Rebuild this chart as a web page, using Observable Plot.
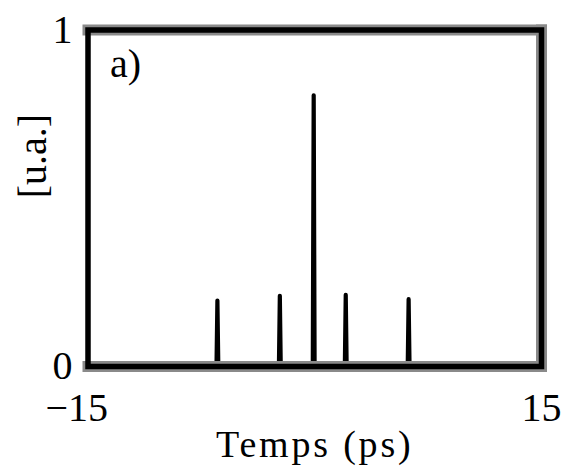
<!DOCTYPE html>
<html>
<head>
<meta charset="utf-8">
<script src="https://cdn.jsdelivr.net/npm/d3@7"></script>
<script src="https://cdn.jsdelivr.net/npm/@observablehq/plot@0.6"></script>
<style>
  html, body { margin: 0; padding: 0; background: #fff; }
</style>
</head>
<body>
<div id="chart"></div>
<script>
// Time axis (ps) and intensity (a.u.)
const time = [-15, -6.50, -6.44, -6.38, -2.37, -2.31, -2.25, -0.13, -0.07, -0.01, 1.99, 2.05, 2.11, 6.15, 6.21, 6.27, 15];
const intensity = [0, 0, 0.196, 0, 0, 0.21, 0, 0, 0.806, 0, 0, 0.213, 0, 0, 0.20, 0, 0];

const xTicks = [-15, 15];
const xTickLabels = ["\u221215", "15"];
const yTicks = [0, 1];
const yTickLabels = ["0", "1"];

const xLabel = "Temps (ps)";
const yLabel = "[u.a.]";
const panelLabel = "a)";

const trace = time.map((t, i) => ({t, v: intensity[i]}));
const FONT = "Liberation Serif, Times New Roman, serif";

const chart = Plot.plot({
  width: 563,
  height: 470,
  marginLeft: 87.5,
  marginRight: 22,
  marginTop: 29.5,
  marginBottom: 104,
  style: {fontFamily: FONT, fontSize: "40px", color: "#000", background: "#fff"},
  x: {domain: [-15, 15]},
  y: {domain: [0, 1]},
  marks: [
    Plot.line(trace, {x: "t", y: "v", stroke: "#000", strokeWidth: 4.2}),
    Plot.frame({anchor: "top", stroke: "#8a8a8a", strokeWidth: 11}),
    Plot.frame({anchor: "right", stroke: "#8a8a8a", strokeWidth: 11}),
    Plot.frame({anchor: "bottom", stroke: "#8a8a8a", strokeWidth: 11}),
    Plot.frame({stroke: "#000", strokeWidth: 5.5}),
    Plot.axisX(xTicks, {
      anchor: "bottom", tickSize: 0, tickPadding: 26, textAnchor: "end", dx: 20,
      tickFormat: d => xTickLabels[xTicks.indexOf(d)], label: null,
      fontSize: 40, fontFamily: FONT, fill: "#000"
    }),
    Plot.axisY(yTicks, {
      anchor: "left", tickSize: 0, tickPadding: 15.5,
      tickFormat: d => yTickLabels[yTicks.indexOf(d)], label: null,
      fontSize: 40, fontFamily: FONT, fill: "#000"
    }),
    Plot.text([xLabel], {
      frameAnchor: "bottom", lineAnchor: "top", dy: 64, text: d => d,
      fontSize: 38, fontFamily: FONT, fill: "#000", className: "xlab"
    }),
    Plot.text([yLabel], {
      frameAnchor: "left", lineAnchor: "middle", rotate: -90, dx: -54.5, text: d => d,
      fontSize: 40, fontFamily: FONT, fill: "#000"
    }),
    Plot.text([panelLabel], {
      frameAnchor: "top-left", textAnchor: "start", lineAnchor: "top", dx: 22, dy: 19, text: d => d,
      fontSize: 40, fontFamily: FONT, fill: "#000"
    })
  ]
});

d3.select(chart).selectAll(".xlab text").attr("letter-spacing", "2.8px");
document.getElementById("chart").appendChild(chart);
</script>
</body>
</html>
